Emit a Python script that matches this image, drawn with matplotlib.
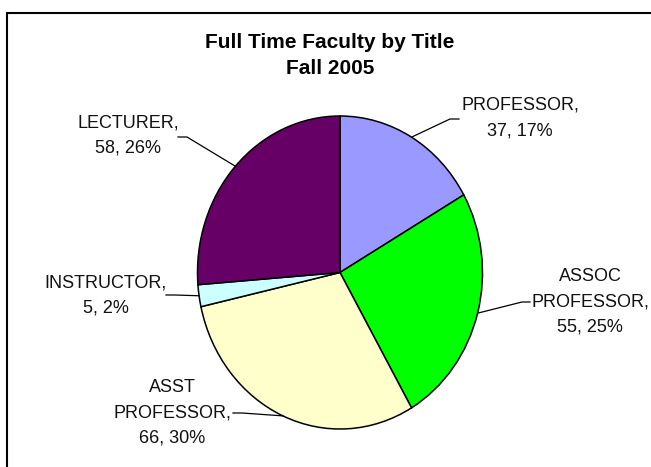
import numpy as np
import matplotlib
matplotlib.use("Agg")
import matplotlib.pyplot as plt
from matplotlib.patches import Rectangle

plt.rcParams['font.family'] = ['Liberation Sans', 'DejaVu Sans']

titles = ['PROFESSOR', 'ASSOC PROFESSOR', 'ASST PROFESSOR', 'INSTRUCTOR', 'LECTURER']
counts = [37, 55, 66, 5, 58]
label_text = ['PROFESSOR,\n37, 17%', 'ASSOC\nPROFESSOR,\n55, 25%',
              'ASST\nPROFESSOR,\n66, 30%', 'INSTRUCTOR,\n5, 2%', 'LECTURER,\n58, 26%']
colors = ['#9999FF', '#00FF00', '#FFFFCC', '#CCFFFF', '#660066']

W, H = 651, 467
# pie centre and radii in pixels (the picture is a bit squashed sideways)
cx, cy, rx, ry = 340, 272.5, 142.5, 156.5

# label block centres and leader line elbow/end points, in pixels
label_pos = [(520, 118), (590, 302), (172, 413), (106, 295.5), (128, 135.5)]
elbows = [((450, 119), (459, 119)), ((522, 302), (530, 302)),
          ((242, 413), (233, 413)), ((175, 295), (166, 295)),
          ((187, 137), (178, 137))]


def to_data(p):
    return (p[0] - cx) / rx, (cy - p[1]) / ry


fig = plt.figure(figsize=(W / 100, H / 100), dpi=100)
ax = fig.add_axes([(cx - rx) / W, 1 - (cy + ry) / H, 2 * rx / W, 2 * ry / H])

wedges, _ = ax.pie(counts, colors=colors, startangle=90, counterclock=False,
                   wedgeprops=dict(edgecolor='black', linewidth=1.1))
ax.set_aspect('auto')
ax.set_xlim(-1, 1)
ax.set_ylim(-1, 1)
ax.axis('off')

for w, txt, pos, (e1, e2) in zip(wedges, label_text, label_pos, elbows):
    mid = np.deg2rad((w.theta1 + w.theta2) / 2)
    x0, y0 = np.cos(mid), np.sin(mid)
    x1, y1 = to_data(e1)
    x2, y2 = to_data(e2)
    ax.plot([x0, x1, x2], [y0, y1, y2], color='black', lw=0.9, clip_on=False)
    tx, ty = to_data(pos)
    ax.text(tx, ty, txt, ha='center', va='center', fontsize=13,
            linespacing=1.62, color='#111111', clip_on=False)

fig.text(330 / W, 1 - 43 / H, 'Full Time Faculty by Title',
         ha='center', va='center', fontsize=15, fontweight='bold')
fig.text(330 / W, 1 - 69 / H, 'Fall 2005',
         ha='center', va='center', fontsize=15, fontweight='bold')

fig.add_artist(Rectangle((7 / W, -0.1), 2, 1.1 - 13 / H, transform=fig.transFigure,
                         fill=False, edgecolor='black', linewidth=1.5))

fig.savefig('out.png', dpi=100)
